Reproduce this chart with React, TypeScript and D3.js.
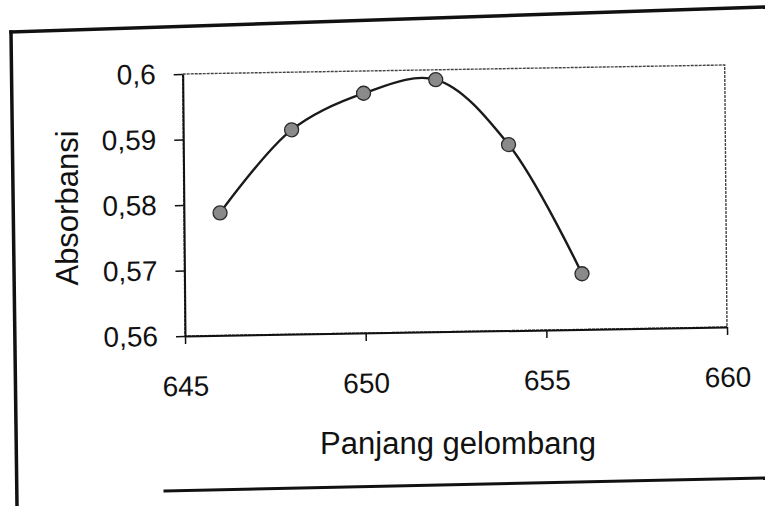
import React, { useEffect, useRef } from "react";
import * as d3 from "d3";

// wavelength scan (nm) vs absorbance
const wavelengths = [646, 648, 650, 652, 654, 656];
const absorbance = [0.5787, 0.5912, 0.5966, 0.5985, 0.5884, 0.5685];
const xTicks = [645, 650, 655, 660];
const yTicks = [0.56, 0.57, 0.58, 0.59, 0.6];

const App = () => {
  const svgRef = useRef<SVGSVGElement>(null);

  useEffect(() => {
    const width = 765;
    const height = 506;
    const left = 185;
    const right = 727;
    const top = 74;
    const bottom = 336;
    const font = "'Liberation Sans', Arial, sans-serif";

    const svg = d3.select(svgRef.current)
      .attr("width", width)
      .attr("height", height);
    svg.selectAll("*").remove();

    svg.append("rect")
      .attr("width", width)
      .attr("height", height)
      .attr("fill", "white");

    // scanned page border
    const frame = svg.append("g")
      .attr("stroke", "#111")
      .attr("fill", "none")
      .attr("stroke-linecap", "square");
    frame.append("line").attr("x1", 11).attr("y1", 32).attr("x2", 765).attr("y2", 7).attr("stroke-width", 3.5);
    frame.append("line").attr("x1", 11).attr("y1", 32).attr("x2", 17).attr("y2", 506).attr("stroke-width", 3.5);
    frame.append("line").attr("x1", 165).attr("y1", 491).attr("x2", 765).attr("y2", 478).attr("stroke-width", 3);

    const x = d3.scaleLinear().domain([645, 660]).range([left, right]);
    const y = d3.scaleLinear().domain([0.56, 0.6]).range([bottom, top]);

    const fmt = d3.formatLocale({
      decimal: ",",
      thousands: ".",
      grouping: [3],
      currency: ["", ""],
    }).format(".2~f");

    // the scan is slightly skewed
    const g = svg.append("g")
      .attr("transform", `translate(${left},${bottom}) matrix(1,-0.0166,0.0088,1,0,0) translate(${-left},${-bottom})`);

    g.append("rect")
      .attr("x", left)
      .attr("y", top)
      .attr("width", right - left)
      .attr("height", bottom - top)
      .attr("fill", "none")
      .attr("stroke", "#444")
      .attr("stroke-width", 1.4)
      .attr("stroke-dasharray", "3,1");

    const yAxis = g.append("g")
      .attr("transform", `translate(${left},0)`)
      .call(d3.axisLeft(y).tickValues(yTicks).tickSize(9).tickSizeOuter(0).tickPadding(18).tickFormat(d => fmt(d as number)));

    const xAxis = g.append("g")
      .attr("transform", `translate(0,${bottom})`)
      .call(d3.axisBottom(x).tickValues(xTicks).tickSize(8).tickSizeOuter(0).tickPadding(32).tickFormat(d => String(d)));

    [yAxis, xAxis].forEach(ax => {
      ax.select(".domain").attr("stroke", "#111").attr("stroke-width", 2);
      ax.selectAll(".tick line").attr("stroke", "#111").attr("stroke-width", 1.5);
      ax.selectAll(".tick text")
        .attr("fill", "#111")
        .style("font-family", font)
        .style("font-size", "28px");
    });

    const points = wavelengths.map((w, i) => [x(w), y(absorbance[i])] as [number, number]);

    const line = d3.line().curve(d3.curveCatmullRom.alpha(0.5));

    g.append("path")
      .attr("d", line(points))
      .attr("fill", "none")
      .attr("stroke", "#1a1a1a")
      .attr("stroke-width", 2.4);

    g.selectAll("circle.pt")
      .data(points)
      .enter()
      .append("circle")
      .attr("class", "pt")
      .attr("cx", d => d[0])
      .attr("cy", d => d[1])
      .attr("r", 7)
      .attr("fill", "#8a8a8a")
      .attr("stroke", "#2a2a2a")
      .attr("stroke-width", 1.3);

    svg.append("text")
      .attr("transform", `translate(67,208) rotate(-90)`)
      .attr("text-anchor", "middle")
      .attr("dy", "0.35em")
      .style("font-family", font)
      .style("font-size", "31px")
      .attr("fill", "#111")
      .text("Absorbansi");

    svg.append("text")
      .attr("x", 458)
      .attr("y", 454)
      .attr("text-anchor", "middle")
      .style("font-family", font)
      .style("font-size", "31px")
      .attr("fill", "#111")
      .text("Panjang gelombang");
  }, []);

  return <svg ref={svgRef} style={{ position: "absolute", left: 0, top: 0 }}></svg>;
};

export default App;
